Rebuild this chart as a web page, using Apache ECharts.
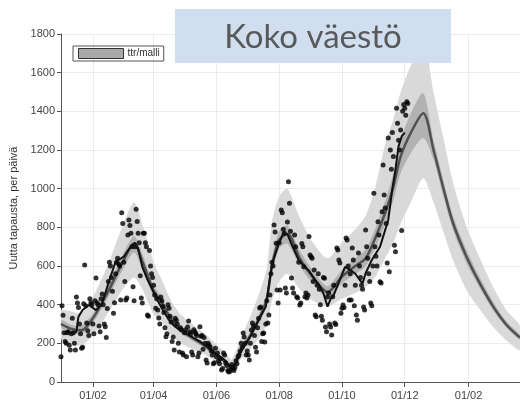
<!DOCTYPE html>
<html>
<head>
<meta charset="utf-8">
<script src="https://cdn.jsdelivr.net/npm/echarts@6.0.0/dist/echarts.min.js"></script>
<style>
  html, body { margin: 0; padding: 0; background: #fff; }
  #chart { width: 520px; height: 405px; }
</style>
</head>
<body>
<div id="chart"></div>
<script>
// päiväkohtaiset tapaukset 2021 (kuukausittain)
const casesJan = [130, 395, 345, 255, 210, 200, 255, 260, 190, 165, 250, 330, 255, 200, 165, 440, 408, 385, 300, 250, 175, 180, 405, 605, 395, 305, 265, 240, 430, 410, 400];
const casesFeb = [300, 250, 420, 538, 410, 400, 290, 260, 430, 455, 400, 300, 286, 230, 380, 520, 620, 600, 540, 470, 355, 410, 560, 620, 640, 610, 600, 424];
const casesMar = [875, 820, 620, 520, 424, 434, 760, 838, 810, 770, 700, 493, 420, 700, 893, 830, 770, 720, 550, 434, 408, 770, 770, 720, 700, 347, 340, 680, 600, 560, 540];
const casesApr = [500, 450, 382, 430, 372, 331, 300, 440, 420, 390, 360, 280, 234, 250, 400, 382, 340, 310, 210, 233, 166, 330, 320, 300, 200, 155, 280, 270, 150, 140];
const casesMay = [255, 270, 130, 284, 315, 260, 250, 155, 140, 270, 260, 250, 240, 130, 150, 286, 236, 240, 170, 230, 200, 114, 98, 200, 190, 180, 160, 140, 95, 100, 175];
const casesJun = [130, 150, 110, 95, 120, 62, 70, 150, 140, 100, 85, 60, 52, 55, 78, 90, 70, 60, 75, 110, 95, 130, 140, 160, 200, 180, 253, 233, 200, 140];
const casesJul = [160, 140, 114, 200, 269, 305, 290, 240, 180, 155, 280, 330, 383, 388, 209, 250, 253, 207, 300, 420, 305, 347, 450, 560, 620, 600, 812, 776, 718, 476, 408];
const casesAug = [720, 476, 890, 875, 790, 770, 486, 460, 828, 1036, 924, 780, 538, 486, 460, 760, 700, 441, 434, 620, 398, 408, 717, 700, 596, 441, 460, 434, 450, 752, 657];
const casesSep = [648, 640, 520, 579, 347, 338, 500, 560, 480, 400, 340, 320, 540, 536, 284, 260, 440, 460, 300, 284, 243, 441, 500, 305, 298, 693, 683, 631, 615, 355];
const casesOct = [381, 398, 385, 500, 745, 735, 600, 424, 560, 424, 693, 631, 395, 500, 347, 320, 667, 600, 540, 500, 480, 388, 372, 786, 700, 640, 560, 520, 408, 395, 600];
const casesNov = [976, 700, 650, 600, 829, 760, 519, 512, 880, 1123, 967, 900, 820, 615, 1262, 570, 1200, 1100, 1290, 1166, 707, 674, 1416, 1338, 1250, 1200, 1304, 783, 1400, 1435];
const casesDec = [1416, 1380, 1450, 1440];

// havaittu keskiarvo (päivä-indeksi 1.1.2021 alkaen)
const obsDays = [3, 10, 15, 16, 17, 21, 27, 34, 40, 47, 53, 57, 61, 65, 69, 72, 75, 79, 84, 89, 94, 99, 105, 110, 115, 120, 125, 130, 135, 140, 145, 150, 155, 160, 163, 166, 170, 175, 180, 184, 189, 194, 199, 205, 212, 216, 220, 225, 231, 236, 241, 247, 251, 255, 259, 262, 265, 271, 276, 281, 286, 290, 293, 296, 302, 310, 318, 322, 325, 328, 331, 334];
const obsVals = [252, 252, 260, 303, 338, 372, 398, 372, 407, 527, 622, 635, 648, 680, 709, 720, 690, 596, 530, 476, 420, 372, 320, 290, 270, 255, 240, 225, 210, 190, 175, 150, 130, 110, 88, 75, 100, 160, 200, 235, 290, 340, 390, 610, 720, 770, 765, 700, 630, 600, 575, 528, 500, 459, 390, 430, 450, 528, 596, 580, 560, 530, 510, 563, 631, 700, 838, 1000, 1100, 1220, 1270, 1290];

// malli: mediaani ja luottamusvälit
const modelDays = [0, 10, 20, 31, 45, 60, 71, 80, 90, 97, 107, 116, 126, 136, 145, 155, 162, 166, 175, 184, 194, 200, 205, 212, 220, 232, 245, 259, 273, 286, 296, 305, 315, 323, 330, 340, 352, 362, 372, 381, 394, 407, 420, 433, 446];
const modelMid = [300, 275, 268, 330, 460, 620, 715, 610, 470, 420, 325, 270, 234, 200, 166, 124, 95, 75, 165, 240, 345, 430, 600, 735, 765, 640, 540, 465, 545, 600, 640, 740, 875, 1010, 1166, 1290, 1390, 1200, 993, 821, 648, 510, 390, 295, 230];
const innerLo = [280, 255, 248, 305, 430, 580, 670, 570, 440, 395, 305, 253, 219, 187, 155, 115, 87, 68, 150, 220, 318, 398, 558, 690, 715, 600, 505, 435, 510, 560, 598, 690, 815, 940, 1080, 1185, 1262, 1150, 950, 785, 615, 485, 370, 280, 218];
const innerHi = [320, 295, 290, 355, 490, 660, 755, 650, 500, 445, 345, 287, 250, 213, 177, 133, 103, 83, 180, 260, 372, 462, 642, 780, 810, 680, 575, 495, 580, 640, 685, 790, 935, 1080, 1250, 1390, 1495, 1250, 1035, 857, 683, 540, 413, 312, 244];
const outerLo = [225, 195, 190, 240, 350, 480, 540, 470, 350, 320, 245, 200, 175, 150, 125, 90, 68, 50, 120, 170, 240, 300, 420, 520, 560, 480, 420, 390, 430, 460, 490, 540, 640, 720, 820, 930, 1054, 930, 770, 630, 476, 375, 285, 215, 165];
const outerHi = [370, 365, 355, 440, 600, 810, 930, 800, 620, 540, 420, 350, 305, 265, 225, 175, 140, 115, 230, 340, 480, 590, 830, 960, 1000, 850, 720, 640, 720, 790, 860, 1000, 1230, 1360, 1500, 1640, 1780, 1500, 1250, 1030, 803, 640, 490, 370, 290];

const tickLabels = ["01/02", "01/04", "01/06", "01/08", "01/10", "01/12"];
const yTicks = [0, 200, 400, 600, 800, 1000, 1200, 1400, 1600, 1800];

// päivät 1.1.2021 - 23.3.2022
let days = [];
for (let i = 0; i < 447; i++) {
  let d = new Date(2021, 0, 1 + i);
  let dd = ("0" + d.getDate()).slice(-2);
  let mm = ("0" + (d.getMonth() + 1)).slice(-2);
  days.push(dd + "/" + mm);
}
let showTick = function(index, value) {
  return tickLabels.indexOf(value) >= 0;
};

let cases = [].concat(casesJan, casesFeb, casesMar, casesApr, casesMay, casesJun,
  casesJul, casesAug, casesSep, casesOct, casesNov, casesDec);

let dom = document.getElementById("chart");
let myChart = echarts.init(dom);

let font = "Liberation Sans, Arial, sans-serif";

function band(name, lo, hi, color, z) {
  return {
    name: name,
    type: "custom",
    data: [[0, 0]],
    clip: true,
    silent: true,
    z: z,
    renderItem: function(params, api) {
      let pts = [];
      for (let i = 0; i < modelDays.length; i++) pts.push(api.coord([modelDays[i], hi[i]]));
      for (let i = modelDays.length - 1; i >= 0; i--) pts.push(api.coord([modelDays[i], lo[i]]));
      return {
        type: "polygon",
        shape: { points: pts, smooth: 0.25 },
        style: { fill: color }
      };
    }
  };
}

let option = {
  animation: false,
  backgroundColor: "#fff",
  textStyle: { fontFamily: font },
  grid: { left: 60, right: 0, top: 34, bottom: 23 },
  legend: {
    left: 73,
    top: 46,
    data: [{ name: "ttr/malli", icon: "rect" }],
    itemWidth: 45,
    itemHeight: 10,
    itemGap: 5,
    padding: [2, 4, 2, 5],
    borderColor: "#555",
    borderWidth: 1,
    itemStyle: { color: "#a9a9a9", borderColor: "#333", borderWidth: 1 },
    textStyle: { fontSize: 10, color: "#333", fontFamily: font, padding: [0, 0, 0, -1] }
  },
  xAxis: {
    type: "category",
    boundaryGap: false,
    data: days,
    axisLine: { lineStyle: { color: "#555" } },
    axisTick: { show: true, interval: showTick, length: 5, lineStyle: { color: "#555" } },
    axisLabel: { interval: showTick, color: "#444", fontSize: 11, margin: 8 },
    splitLine: { show: true, interval: showTick, lineStyle: { color: "#ebebeb" } }
  },
  yAxis: {
    type: "value",
    min: yTicks[0],
    max: yTicks[yTicks.length - 1],
    interval: 200,
    name: "Uutta tapausta, per päivä",
    nameLocation: "middle",
    nameGap: 42,
    nameTextStyle: { fontSize: 11, color: "#333" },
    axisLine: { show: true, lineStyle: { color: "#555" } },
    axisTick: { show: true, length: 4, lineStyle: { color: "#555" } },
    axisLabel: { color: "#444", fontSize: 11, margin: 6, formatter: v => String(v) },
    splitLine: { show: true, lineStyle: { color: "#ebebeb" } }
  },
  series: [
    band("ttr95", outerLo, outerHi, "#d9d9d9", 1),
    band("ttr/malli", innerLo, innerHi, "#b2b2b2", 2),
    {
      name: "mediaani",
      type: "line",
      z: 3,
      smooth: 0.3,
      symbol: "none",
      silent: true,
      lineStyle: { color: "#505050", width: 2.5 },
      data: modelDays.map((d, i) => [d, modelMid[i]])
    },
    {
      name: "tapaukset",
      type: "scatter",
      z: 4,
      symbolSize: 5,
      silent: true,
      itemStyle: { color: "#000" },
      data: cases.map((v, i) => [i, v])
    },
    {
      name: "havaittu",
      type: "line",
      z: 5,
      symbol: "none",
      silent: true,
      lineStyle: { color: "#111", width: 2 },
      data: obsDays.map((d, i) => [d, obsVals[i]])
    }
  ],
  graphic: [
    {
      type: "rect",
      left: 175,
      top: 9,
      z: 100,
      shape: { width: 276, height: 54 },
      style: { fill: "#d0def0" }
    },
    {
      type: "text",
      x: 313,
      y: 37,
      z: 101,
      style: {
        text: "Koko väestö",
        font: "33px Lato, sans-serif",
        fill: "#595959",
        align: "center",
        verticalAlign: "middle"
      }
    }
  ]
};

myChart.setOption(option, true);
</script>
</body>
</html>
